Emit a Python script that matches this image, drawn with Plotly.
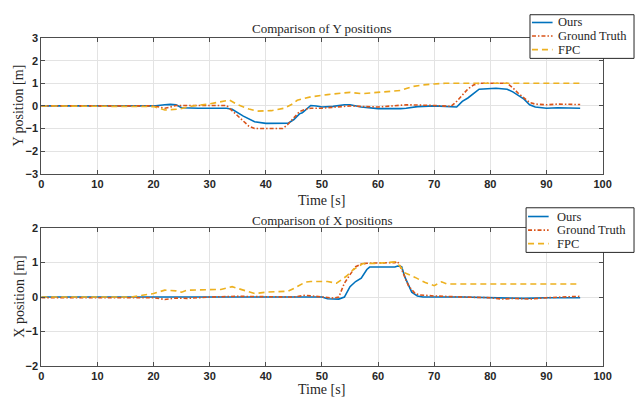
import plotly.graph_objects as go

# ---- Y position series ----
t_ours_y = [0, 20, 22, 23, 24, 25, 28, 33, 34, 36, 38, 40, 44, 45, 46, 46.5, 47, 48, 49, 50,
            52, 54, 55, 57, 60, 62, 64, 65, 67, 70, 72, 73.5, 74, 75, 76, 78, 80, 81, 83, 84,
            86, 87, 88, 90, 92, 96]
ours_y = [0, 0, 0.05, 0.07, 0.05, -0.08, -0.1, -0.1, -0.15, -0.45, -0.7, -0.77, -0.76, -0.6,
          -0.35, -0.3, -0.2, 0.02, 0.0, -0.05, -0.02, 0.05, 0.05, -0.05, -0.12, -0.13, -0.12,
          -0.1, -0.03, 0.0, -0.02, -0.05, -0.05, 0.2, 0.35, 0.74, 0.76, 0.78, 0.74, 0.62, 0.3,
          0.05, -0.05, -0.1, -0.08, -0.1]

t_gt_y = [0, 20, 21, 22, 23, 24, 33, 34, 36, 37, 38, 43, 44, 45, 46, 47, 48, 50, 55, 60, 65,
          70, 73, 74, 75, 76, 77, 78, 83, 84, 85, 86, 87, 88, 90, 92, 96]
gt_y = [0, 0, -0.05, -0.1, -0.05, 0.02, 0.02, -0.2, -0.65, -0.9, -1.0, -1.0, -0.8, -0.5,
        -0.25, -0.15, -0.1, -0.1, 0.0, -0.05, 0.05, 0.02, -0.02, 0.2, 0.5, 0.75, 0.92, 1.0,
        1.0, 0.8, 0.55, 0.35, 0.15, 0.08, 0.05, 0.08, 0.06]

t_fpc_y = [0, 19, 20, 22, 24.5, 27, 29.5, 31.5, 33.5, 35, 37, 38.5, 41, 43.3, 44.5, 45.6, 48,
           51, 53, 55, 57, 60, 64, 66, 68, 70, 72, 96]
fpc_y = [0, 0, -0.03, -0.18, -0.14, 0.0, 0.07, 0.16, 0.26, 0.05, -0.14, -0.23, -0.21, -0.1,
         0.05, 0.25, 0.4, 0.5, 0.55, 0.6, 0.54, 0.61, 0.68, 0.85, 0.93, 0.97, 1.0, 1.0]

# ---- X position series ----
t_ours_x = [0, 50, 51, 53, 54, 55, 56, 57, 58, 58.5, 60, 63, 63.5, 64.2, 64.8, 66, 67, 68,
            75, 80, 86, 90, 96]
ours_x = [0, 0, -0.05, -0.06, 0.0, 0.3, 0.45, 0.55, 0.8, 0.87, 0.87, 0.87, 0.9, 0.88, 0.57,
          0.14, 0.03, 0.0, 0.0, -0.02, -0.04, -0.02, -0.02]

t_gt_x = [0, 20, 22, 24, 26, 30, 35, 40, 45, 47, 49, 50, 52, 53, 54, 55, 56, 57, 58, 60, 63,
          63.5, 64.2, 65.4, 66.6, 67.5, 68, 70, 75, 80, 82, 84, 86, 87, 90, 93, 96]
gt_x = [-0.02, -0.02, -0.07, -0.03, -0.04, 0.0, 0.02, 0.02, 0.0, 0.05, 0.02, 0.0, -0.03, 0.0,
        0.4, 0.65, 0.88, 0.96, 0.98, 0.99, 1.0, 1.03, 0.8, 0.33, 0.1, 0.06, 0.05, 0.03, 0.0,
        -0.02, -0.06, -0.04, -0.05, -0.06, -0.02, -0.01, 0.02]

t_fpc_x = [0, 16, 18, 20, 21, 22, 24, 25, 26, 30, 32, 34, 36, 38, 40, 44, 45, 47, 48, 51,
           52.6, 54.4, 55.6, 57.3, 60, 63, 63.9, 64.8, 66.6, 68.4, 70, 71.3, 72.2, 96]
fpc_x = [0, 0, 0.05, 0.1, 0.15, 0.2, 0.18, 0.14, 0.2, 0.2, 0.22, 0.3, 0.2, 0.1, 0.14, 0.17,
         0.25, 0.43, 0.45, 0.45, 0.4, 0.61, 0.8, 0.97, 0.98, 1.02, 0.9, 0.7, 0.57, 0.42, 0.33,
         0.44, 0.38, 0.38]

series_names = ["Ours", "Ground Truth", "FPC"]
colors = ["#0072BD", "#D95319", "#EDB120"]
dashes = ["solid", "4px,2px,1.5px,2px", "6px,4px"]

SERIF = "Liberation Serif"
SANS = "Liberation Sans"
AXIS_COLOR = "#4d4d4d"
TEXT_COLOR = "#262626"
W, H = 644, 401


def px_x(p):
    return p / W


def px_y(p):
    return 1 - p / H


fig = go.Figure()

top = [(t_ours_y, ours_y), (t_gt_y, gt_y), (t_fpc_y, fpc_y)]
bottom = [(t_ours_x, ours_x), (t_gt_x, gt_x), (t_fpc_x, fpc_x)]

for (t, v), name, c, d in zip(top, series_names, colors, dashes):
    fig.add_trace(go.Scatter(x=t, y=v, mode="lines", name=name, showlegend=False,
                             line=dict(color=c, width=1.6, dash=d),
                             xaxis="x", yaxis="y"))
for (t, v), name, c, d in zip(bottom, series_names, colors, dashes):
    fig.add_trace(go.Scatter(x=t, y=v, mode="lines", name=name, showlegend=False,
                             line=dict(color=c, width=1.6, dash=d),
                             xaxis="x2", yaxis="y2"))

axis_common = dict(
    showline=True, linecolor=AXIS_COLOR, linewidth=1, mirror="ticks",
    ticks="inside", ticklen=4, tickcolor=AXIS_COLOR,
    showgrid=True, gridcolor="#e3e3e3", gridwidth=1, zeroline=False,
    tickfont=dict(family=SANS, size=11, weight="bold", color=TEXT_COLOR),
)

x_dom = [px_x(39), px_x(611)]
top_dom = [px_y(173), px_y(33)]
bot_dom = [px_y(371), px_y(229)]
x_mid = 0.5 * (x_dom[0] + x_dom[1])

fig.update_layout(
    width=W, height=H,
    margin=dict(l=0, r=0, t=0, b=0),
    paper_bgcolor="white", plot_bgcolor="white",
    showlegend=False,
    xaxis=dict(domain=x_dom, range=[0, 100], dtick=10, anchor="y", **axis_common),
    yaxis=dict(domain=top_dom, range=[-3, 3], dtick=1, anchor="x", **axis_common),
    xaxis2=dict(domain=x_dom, range=[0, 100], dtick=10, anchor="y2", **axis_common),
    yaxis2=dict(domain=bot_dom, range=[-2, 2], dtick=1, anchor="x2", **axis_common),
)

label_font = dict(family=SERIF, size=14, color=TEXT_COLOR)
annotations = [
    dict(text="Comparison of Y positions", x=x_mid, y=px_y(23), font=dict(family=SERIF, size=13, color=TEXT_COLOR)),
    dict(text="Comparison of X positions", x=x_mid, y=px_y(221), font=dict(family=SERIF, size=13, color=TEXT_COLOR)),
    dict(text="Time [s]", x=x_mid, y=px_y(201), font=label_font),
    dict(text="Time [s]", x=x_mid, y=px_y(395), font=label_font),
    dict(text="Y position [m]", x=px_x(16), y=px_y(103), textangle=-90, font=label_font),
    dict(text="X position [m]", x=px_x(16), y=px_y(300), textangle=-90, font=label_font),
]
for a in annotations:
    a.update(xref="paper", yref="paper", showarrow=False, xanchor="center", yanchor="middle")

shapes = []


def add_legend(box, sample_x, text_x, rows):
    x0, y0, x1, y1 = box
    shapes.append(dict(type="rect", xref="paper", yref="paper", layer="above",
                       x0=px_x(x0), x1=px_x(x1), y0=px_y(y1), y1=px_y(y0),
                       line=dict(color=TEXT_COLOR, width=1), fillcolor="white"))
    for name, c, d, ry in zip(series_names, colors, dashes, rows):
        shapes.append(dict(type="line", xref="paper", yref="paper", layer="above",
                           x0=px_x(sample_x[0]), x1=px_x(sample_x[1]), y0=px_y(ry), y1=px_y(ry),
                           line=dict(color=c, width=1.6, dash=d)))
        annotations.append(dict(text=name, x=px_x(text_x), y=px_y(ry), xref="paper", yref="paper",
                                showarrow=False, xanchor="left", yanchor="middle",
                                font=dict(family=SERIF, size=12.5, color=TEXT_COLOR)))


add_legend((537, 9, 643, 54), (539, 560), 563, (17, 31, 45))
add_legend((533, 208, 643, 254), (535, 556), 562, (217, 231, 245))

fig.update_layout(shapes=shapes, annotations=annotations)

fig.write_html("out.html")
